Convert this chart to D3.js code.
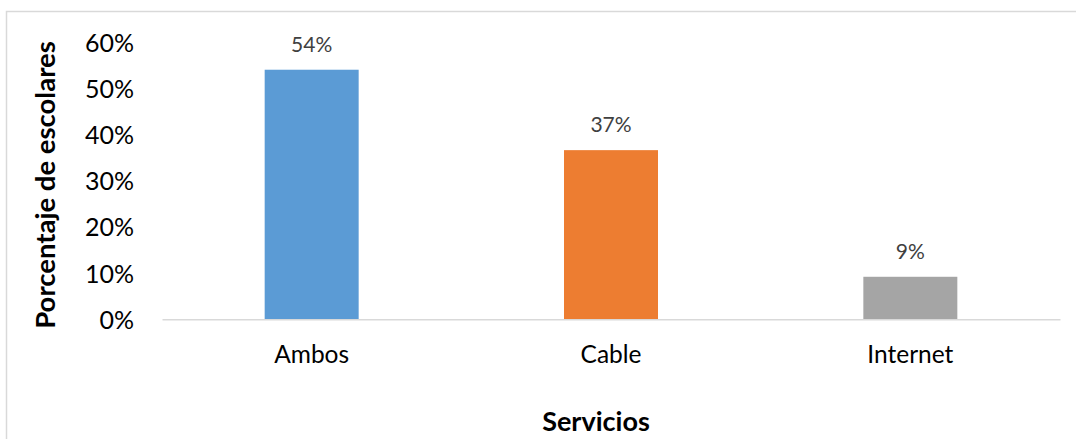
<!DOCTYPE html>
<html>
<head>
<meta charset="utf-8">
<script src="https://cdn.jsdelivr.net/npm/d3@7"></script>
<style>
  html, body { margin: 0; padding: 0; background: #fff; }
  svg { display: block; font-family: Lato, "Noto Sans", sans-serif; }
</style>
</head>
<body>
<svg id="chart" width="1076" height="439"></svg>
<script>
// Servicios usados por los escolares
const categories = ["Ambos", "Cable", "Internet"];
const values = [0.54, 0.366, 0.092];
const colors = ["#5b9bd5", "#ed7d31", "#a5a5a5"];
const yTicks = [0, 0.1, 0.2, 0.3, 0.4, 0.5, 0.6];
const yTitle = "Porcentaje de escolares";
const xTitle = "Servicios";

const svg = d3.select("#chart");
const W = 1076, H = 439;
const plotTop = 42, plotBottom = 319.3;

// chart frame
svg.append("rect")
  .attr("x", 6.5).attr("y", 11.5)
  .attr("width", W + 10).attr("height", H + 10)
  .attr("fill", "none").attr("stroke", "#d9d9d9").attr("stroke-width", 1.5);

const x = d3.scaleBand()
  .domain(categories)
  .range([162, 1060])
  .paddingInner(0.686)
  .paddingOuter(0.343);

const y = d3.scaleLinear().domain([0, 0.6]).range([plotBottom, plotTop]);

const fmt = d3.format(".0%");

// y axis labels (no line, no tick marks)
const yAxis = svg.append("g")
  .attr("transform", "translate(134,0)")
  .call(d3.axisLeft(y).tickValues(yTicks).tickFormat(fmt).tickSize(0).tickPadding(0));
yAxis.select(".domain").remove();
yAxis.selectAll("text")
  .attr("font-family", "Lato, sans-serif")
  .attr("font-size", 25)
  .attr("fill", "#000")
  .attr("dy", "0.36em");

// bars
svg.append("g").selectAll("rect")
  .data(categories)
  .join("rect")
  .attr("x", d => x(d))
  .attr("width", x.bandwidth())
  .attr("y", (d, i) => y(values[i]))
  .attr("height", (d, i) => y(0) - y(values[i]))
  .attr("fill", (d, i) => colors[i]);

// baseline / category axis
const xAxis = svg.append("g")
  .attr("transform", `translate(0,${plotBottom})`)
  .call(d3.axisBottom(x).tickSize(0).tickPadding(0));
xAxis.select(".domain").attr("stroke", "#d9d9d9").attr("stroke-width", 1.5);
xAxis.selectAll("text")
  .attr("font-family", "Lato, sans-serif")
  .attr("font-size", 24.5)
  .attr("fill", "#000")
  .attr("y", 44)
  .attr("dy", 0);

// value labels
svg.append("g").selectAll("text")
  .data(categories)
  .join("text")
  .attr("x", d => x(d) + x.bandwidth() / 2)
  .attr("y", (d, i) => y(values[i]) - 18)
  .attr("text-anchor", "middle")
  .attr("font-size", 21)
  .attr("fill", "#404040")
  .text((d, i) => fmt(values[i]));

// axis titles
svg.append("text")
  .attr("transform", "translate(55,185) rotate(-90)")
  .attr("text-anchor", "middle")
  .attr("font-size", 27.5)
  .attr("font-weight", "bold")
  .attr("fill", "#000")
  .text(yTitle);

svg.append("text")
  .attr("x", 596)
  .attr("y", 431)
  .attr("text-anchor", "middle")
  .attr("font-size", 27)
  .attr("font-weight", "bold")
  .attr("fill", "#000")
  .text(xTitle);
</script>
</body>
</html>
